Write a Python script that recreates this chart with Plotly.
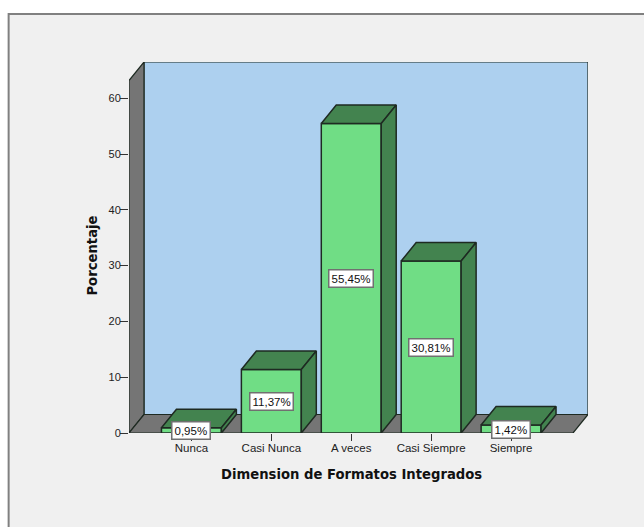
import plotly.graph_objects as go

# Percentage of responses per category
categories = ["Nunca", "Casi Nunca", "A veces", "Casi Siempre", "Siempre"]
percentages = [0.95, 11.37, 55.45, 30.81, 1.42]
value_ticks = [0, 10, 20, 30, 40, 50, 60]
x_title = "Dimension de Formatos Integrados"
y_title = "Porcentaje"

WIDTH, HEIGHT = 644, 527

# Plot box in pixels; the axis ranges below give 80 px per category, 5.58 px per percent
LEFT, RIGHT, TOP, BOTTOM = 128.5, 588.0, 62.0, 433.0
PX_PER_CAT, PX_PER_PCT = 80, 5.58
X_MIN, X_MAX = (LEFT - 191) / PX_PER_CAT, (RIGHT - 191) / PX_PER_CAT
Y_MIN, Y_MAX = 0.0, (BOTTOM - TOP) / PX_PER_PCT

# Oblique depth of the 3D look, in axis units
DX, DY = 15 / PX_PER_CAT, 18.5 / PX_PER_PCT
BAR_W = 0.75
WALL_TOP = Y_MAX - DY
FRONT_RIGHT = (573 - 191) / PX_PER_CAT

FRONT = "#70DD85"
DARK = "#43834F"
WALL = "#757575"
BACK = "#ADD0EF"
BG = "#F0F0F0"
INK = "#1E2A22"


def paper_x(px):
    return (px - LEFT) / (RIGHT - LEFT)


def paper_y(px):
    return (BOTTOM - px) / (BOTTOM - TOP)


def poly(points):
    return "M " + " L ".join(f"{x},{y}" for x, y in points) + " Z"


def plane(points, fill):
    return dict(type="path", path=poly(points), xref="x", yref="y", layer="below",
                fillcolor=fill, line=dict(color=INK, width=1.2))


fig = go.Figure()

# Chart area, framed on the left and top and running off the page elsewhere
fig.add_shape(type="rect", xref="paper", yref="paper", layer="below",
              x0=paper_x(8), x1=paper_x(650), y0=paper_y(534), y1=paper_y(14),
              fillcolor=BG, line=dict(color="#808080", width=2))

# Back wall, left wall and floor
back_left = X_MIN + DX
fig.add_shape(**plane([(back_left, DY), (X_MAX, DY), (X_MAX, Y_MAX), (back_left, Y_MAX)], BACK))
fig.add_shape(**plane([(X_MIN, 0), (back_left, DY), (back_left, Y_MAX), (X_MIN, WALL_TOP)], WALL))
fig.add_shape(**plane([(X_MIN, 0), (FRONT_RIGHT, 0), (X_MAX, DY), (back_left, DY)], WALL))

# Front faces of the bars
fig.add_trace(go.Bar(
    x=list(range(len(categories))), y=percentages, width=BAR_W,
    marker=dict(color=FRONT, line=dict(color=INK, width=1.5)),
    hoverinfo="skip", showlegend=False,
))

# Top and side faces of the bars
for i, v in enumerate(percentages):
    l, r = i - BAR_W / 2, i + BAR_W / 2
    top = [l, l + DX, r + DX, r, l]
    top_y = [v, v + DY, v + DY, v, v]
    side = [r, r + DX, r + DX, r, r]
    side_y = [v, v + DY, DY, 0, v]
    for xs, ys in ((top, top_y), (side, side_y)):
        fig.add_trace(go.Scatter(
            x=xs, y=ys, mode="lines", fill="toself", fillcolor=DARK,
            line=dict(color=INK, width=1.5), hoverinfo="skip", showlegend=False,
        ))

# Value boxes at mid-height of each bar
for i, v in enumerate(percentages):
    fig.add_annotation(
        x=i, y=v / 2, text=f"{v:.2f}".replace(".", ",") + "%", showarrow=False,
        font=dict(family="Liberation Sans", size=11.5, color="#111111"),
        bgcolor="#FFFFFF", bordercolor="#707070", borderwidth=1.5, borderpad=2,
    )

# Axis titles, centred on the chart's own front plane
fig.add_annotation(
    xref="paper", yref="paper", x=paper_x(351), y=paper_y(474), showarrow=False,
    xanchor="center", yanchor="middle", text=f"<b>{x_title}</b>",
    font=dict(family="DejaVu Sans", size=13.2, color="#111111"),
)
fig.add_annotation(
    xref="paper", yref="paper", x=paper_x(91), y=paper_y(256), showarrow=False, textangle=-90,
    xanchor="center", yanchor="middle", text=f"<b>{y_title}</b>",
    font=dict(family="DejaVu Sans", size=13.2, color="#111111"),
)

fig.update_layout(
    width=WIDTH, height=HEIGHT, autosize=False,
    margin=dict(l=LEFT, r=WIDTH - RIGHT, t=TOP, b=HEIGHT - BOTTOM, autoexpand=False),
    paper_bgcolor="#FFFFFF", plot_bgcolor="rgba(0,0,0,0)", showlegend=False,
    xaxis=dict(
        range=[X_MIN, X_MAX], tickmode="array", tickvals=list(range(len(categories))),
        ticktext=categories, ticks="outside", ticklen=7, tickwidth=1.4, tickcolor="#333333",
        showgrid=False, zeroline=False, showline=False, ticklabelstandoff=-3,
        tickfont=dict(family="Liberation Sans", size=11.5, color="#222222"),
    ),
    yaxis=dict(
        range=[Y_MIN, Y_MAX], tickmode="array", tickvals=value_ticks,
        ticks="outside", ticklen=8, tickwidth=1.4, tickcolor="#333333",
        showgrid=False, zeroline=False, showline=False, ticklabelstandoff=-3,
        tickfont=dict(family="Liberation Sans", size=11, color="#222222"),
    ),
)

fig.write_html("out.html")
